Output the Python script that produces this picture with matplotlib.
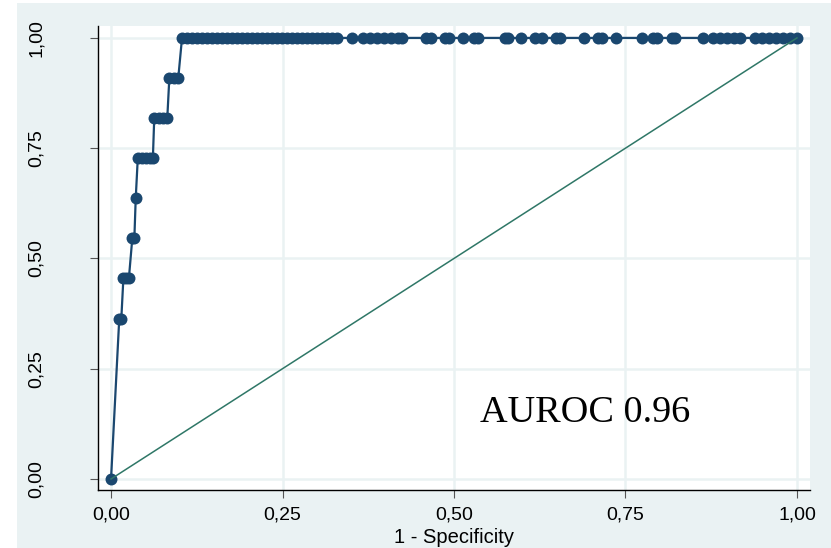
import matplotlib
matplotlib.use("Agg")
import matplotlib.pyplot as plt
from matplotlib.patches import Rectangle

# ---- data ----
tpr_levels = [0.0, 4/11, 5/11, 6/11, 7/11, 8/11, 9/11, 10/11, 1.0]
fpr_by_level = [
    [0.0],
    [0.012, 0.015],
    [0.018, 0.022, 0.026],
    [0.031, 0.034],
    [0.036],
    [0.039, 0.045, 0.051, 0.057, 0.061],
    [0.063, 0.070, 0.076, 0.082],
    [0.085, 0.092, 0.098],
    [0.1035, 0.111, 0.118, 0.125, 0.133, 0.140, 0.147, 0.155, 0.162, 0.169,
     0.176, 0.184, 0.191, 0.198, 0.205, 0.213, 0.220, 0.227, 0.235, 0.242,
     0.249, 0.257, 0.264, 0.271, 0.278, 0.286, 0.293, 0.300, 0.308, 0.315,
     0.322, 0.329, 0.351, 0.367, 0.378, 0.388, 0.398, 0.408, 0.418, 0.424,
     0.459, 0.466, 0.487, 0.493, 0.513, 0.529, 0.535, 0.574, 0.579, 0.598,
     0.618, 0.628, 0.649, 0.655, 0.690, 0.710, 0.716, 0.736, 0.774, 0.790,
     0.796, 0.818, 0.822, 0.863, 0.878, 0.888, 0.898, 0.908, 0.917, 0.939,
     0.949, 0.959, 0.970, 0.980, 0.990, 1.0],
]
ticks = [0.0, 0.25, 0.5, 0.75, 1.0]
tick_labels = ["0,00", "0,25", "0,50", "0,75", "1,00"]
xlabel = "1 - Specificity"
annotation = "AUROC 0.96"

fpr = [x for xs in fpr_by_level for x in xs]
tpr = [lvl for lvl, xs in zip(tpr_levels, fpr_by_level) for _ in xs]

navy = "#1a476f"
green = "#2f7767"
bg = "#eaf2f3"
sans = ["Liberation Sans", "DejaVu Sans"]

W, H = 831, 548
fig = plt.figure(figsize=(W / 100, H / 100), dpi=100, facecolor="white")
fig.patches.append(Rectangle((17 / W, 0), 1 - 17 / W, 1 - 3 / H,
                             transform=fig.transFigure, facecolor=bg,
                             edgecolor="none", zorder=-10))

ax = fig.add_axes([98 / W, (H - 490) / H, (810 - 98) / W, (490 - 26) / H])
ax.set_facecolor("white")
ax.set_xlim(-0.019, 1.019)
ax.set_ylim(-0.025, 1.027)

ax.plot(fpr, tpr, color=navy, lw=1.6, marker="o", ms=8.6,
        markeredgewidth=0, zorder=3)
ax.plot([0, 1], [0, 1], color=green, lw=1.1, zorder=4)

ax.set_xticks(ticks)
ax.set_xticklabels(tick_labels)
ax.set_yticks(ticks)
ax.set_yticklabels(tick_labels, rotation=90, va="center")
ax.grid(True, color=bg, lw=1.8, zorder=0)
ax.set_axisbelow(True)

for s in ["top", "right"]:
    ax.spines[s].set_visible(False)
for s in ["left", "bottom"]:
    ax.spines[s].set_color("black")
    ax.spines[s].set_linewidth(1.0)

ax.tick_params(axis="both", direction="out", length=6, width=0.8,
               color="#555555", labelsize=14)
ax.tick_params(axis="x", pad=6)
ax.tick_params(axis="y", pad=32)
for lab in ax.get_xticklabels() + ax.get_yticklabels():
    lab.set_family(sans)

ax.set_xlabel(xlabel, fontsize=14.5, family=sans)
ax.xaxis.set_label_coords(0.5, -0.1013)
ax.xaxis.label.set_va("center")

ax.text(0.538, 0.129, annotation, fontsize=27.5,
        family=["Liberation Serif", "DejaVu Serif"], ha="left",
        va="baseline", color="black", zorder=5)

fig.savefig("out.png", dpi=100, facecolor=fig.get_facecolor())
